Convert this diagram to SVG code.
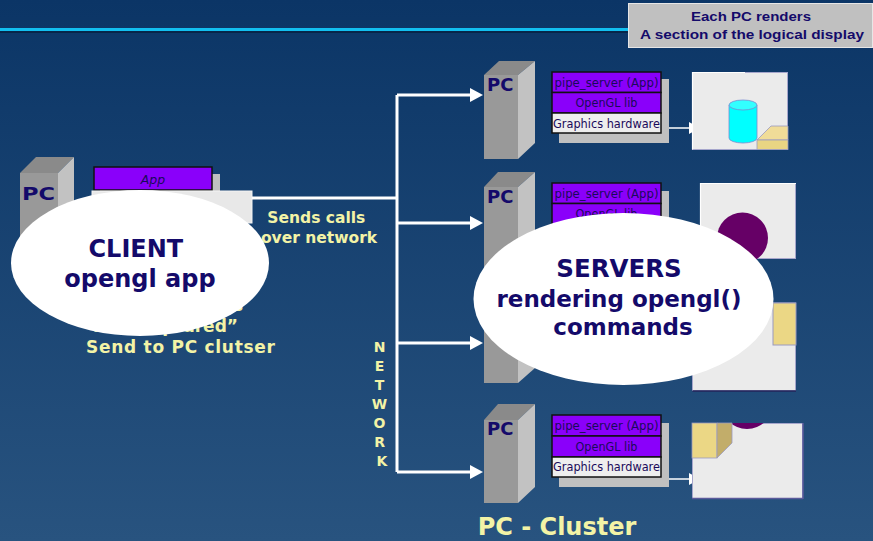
<svg xmlns="http://www.w3.org/2000/svg" width="873" height="541" viewBox="0 0 873 541">
  <defs>
    <linearGradient id="bg" x1="0" y1="0" x2="0" y2="1">
      <stop offset="0" stop-color="#0b3566"/>
      <stop offset="1" stop-color="#28537f"/>
    </linearGradient>
    <marker id="ah" markerWidth="14" markerHeight="14" refX="0" refY="7" orient="auto" markerUnits="userSpaceOnUse">
      <path d="M0,0 L13,7 L0,14 z" fill="#ffffff"/>
    </marker>
    <marker id="ahs" markerWidth="12" markerHeight="12" refX="0" refY="6" orient="auto" markerUnits="userSpaceOnUse">
      <path d="M0,0 L11,6 L0,12 z" fill="#ffffff"/>
    </marker>
    <clipPath id="clip2"><rect x="700" y="183" width="96" height="76"/></clipPath>
    <clipPath id="clip4"><rect x="692" y="423" width="111" height="76"/></clipPath>
    <style>
      .navy { fill: #140a6a; font-family: "DejaVu Sans", "Liberation Sans", sans-serif; font-weight: bold; }
      .yel { fill: #f3f3a6; font-family: "DejaVu Sans", "Liberation Sans", sans-serif; font-weight: bold; }
      .front { fill: #999999; }
      .side { fill: #c2c2c2; }
      .top { fill: #8a8a8a; }
      .pclabel { fill: #140a6a; font-family: "DejaVu Sans", "Liberation Sans", sans-serif; font-weight: bold; font-size: 18px; }
      .purple { fill: #8a00fa; stroke: #111111; stroke-width: 1.5; }
      .hw { fill: #eeeeee; stroke: #111111; stroke-width: 1.5; }
      .shadow { fill: #c0c0c0; }
      .row { fill: #1a0a5a; font-family: "DejaVu Sans", "Liberation Sans", sans-serif; font-size: 12.5px; }
      .wire { stroke: #ffffff; stroke-width: 3; fill: none; }
      .thin { stroke: #ffffff; stroke-width: 1.5; fill: none; }
      .screen { fill: #ebebeb; stroke: #a6a6cc; stroke-width: 1; }
      .bubble { fill: #ffffff; }
    </style>
  </defs>

  <!-- backdrop and title rule -->
  <rect x="0" y="0" width="873" height="541" fill="url(#bg)"/>
  <rect x="0" y="31" width="628" height="2" fill="#07264a"/>
  <rect x="0" y="28" width="628" height="3" fill="#12bff0"/>

  <!-- note box -->
  <g id="note">
    <rect x="628.5" y="3.5" width="244" height="44" fill="#c0c0c0" stroke="#e6e6e6" stroke-width="1"/>
    <text x="751" y="21" text-anchor="middle" font-family="Liberation Sans, Arial, sans-serif" font-weight="bold" font-size="13" fill="#140a6a" textLength="120" lengthAdjust="spacingAndGlyphs">Each PC renders</text>
    <text x="752" y="39" text-anchor="middle" font-family="Liberation Sans, Arial, sans-serif" font-weight="bold" font-size="13" fill="#140a6a" textLength="224" lengthAdjust="spacingAndGlyphs">A section of the logical display</text>
  </g>

  <!-- client machine -->
  <g id="client-pc">
    <polygon class="top" points="20,173 36,157 74,157 58,173"/>
    <polygon class="side" points="58,173 74,157 74,265 58,280"/>
    <rect class="front" x="20" y="173" width="38" height="107"/>
    <text class="pclabel" x="22" y="200" font-size="21" textLength="33" lengthAdjust="spacingAndGlyphs">PC</text>
  </g>

  <g id="client-stack">
    <rect class="shadow" x="100" y="174" width="120" height="40"/>
    <rect class="purple" x="94" y="167" width="118" height="23"/>
    <text class="row" x="153" y="184" text-anchor="middle" font-style="italic">App</text>
    <rect x="92" y="191" width="160" height="32" fill="#e8e8e8" stroke="#f4f4f4" stroke-width="1"/>
  </g>

  <!-- captions under the client bubble -->
  <g id="client-caption">
    <text class="yel" font-size="17">
      <tspan x="249" y="311" text-anchor="end">All OpenGL calls</tspan>
      <tspan x="238" y="332" text-anchor="end">are “captured”</tspan>
    </text>
    <text class="yel" x="180.5" y="353" font-size="17" text-anchor="middle" textLength="189" lengthAdjust="spacing">Send to PC clutser</text>
  </g>

  <g id="network-caption">
    <text class="yel" font-size="15.5" text-anchor="middle">
      <tspan x="319" y="223">Sends calls</tspan>
      <tspan x="319" y="243">over network</tspan>
    </text>
    <text class="yel" font-size="14" text-anchor="middle">
      <tspan x="382" y="352">N</tspan>
      <tspan x="382" y="371">E</tspan>
      <tspan x="382" y="390">T</tspan>
      <tspan x="382" y="409">W</tspan>
      <tspan x="382" y="428">O</tspan>
      <tspan x="382" y="447">R</tspan>
      <tspan x="382" y="466">K</tspan>
    </text>
  </g>

  <!-- network wiring -->
  <g id="connectors">
    <path class="wire" d="M252 198 H397"/>
    <path class="wire" d="M397 95 V472"/>
    <path class="wire" d="M397 95 H470" marker-end="url(#ah)"/>
    <path class="wire" d="M397 223 H470" marker-end="url(#ah)"/>
    <path class="wire" d="M397 343 H470" marker-end="url(#ah)"/>
    <path class="wire" d="M397 472 H470" marker-end="url(#ah)"/>
    <path class="thin" d="M668 128 H689" marker-end="url(#ahs)"/>
    <path class="thin" d="M668 479 H689" marker-end="url(#ahs)"/>
  </g>

  <!-- render node 1 -->
  <g id="server-1">
    <polygon class="top" points="484,75 499,61 535,61 518,75"/>
    <polygon class="side" points="518,75 535,61 535,143 518,159"/>
    <rect class="front" x="484" y="75" width="34" height="84"/>
    <text class="pclabel" x="487" y="91">PC</text>
    <rect class="shadow" x="559" y="79" width="110" height="64"/>
    <rect class="purple" x="552" y="72" width="109" height="20.5"/>
    <rect class="purple" x="552" y="92.5" width="109" height="20.5"/>
    <rect class="hw" x="552" y="113" width="109" height="20"/>
    <text class="row" x="606.5" y="87" text-anchor="middle" textLength="104" lengthAdjust="spacingAndGlyphs">pipe_server (App)</text>
    <text class="row" x="606.5" y="107" text-anchor="middle" textLength="62" lengthAdjust="spacingAndGlyphs">OpenGL lib</text>
    <text class="row" x="606.5" y="127.5" text-anchor="middle" textLength="107" lengthAdjust="spacingAndGlyphs">Graphics hardware</text>
  </g>

  <!-- render node 2 -->
  <g id="server-2">
    <polygon class="top" points="484,187 498,172 535,172 518,187"/>
    <polygon class="side" points="518,187 535,172 535,256 518,271"/>
    <rect class="front" x="484" y="187" width="34" height="84"/>
    <text class="pclabel" x="487" y="203">PC</text>
    <rect class="shadow" x="559" y="191" width="110" height="64"/>
    <rect class="purple" x="552" y="183" width="109" height="20.5"/>
    <rect class="purple" x="552" y="203.5" width="109" height="20.5"/>
    <rect class="hw" x="552" y="224" width="109" height="20"/>
    <text class="row" x="606.5" y="198" text-anchor="middle" textLength="104" lengthAdjust="spacingAndGlyphs">pipe_server (App)</text>
    <text class="row" x="606.5" y="218" text-anchor="middle" textLength="62" lengthAdjust="spacingAndGlyphs">OpenGL lib</text>
  </g>

  <!-- render node 3 -->
  <g id="server-3">
    <polygon class="side" points="518,299 535,284 535,368 518,383"/>
    <rect class="front" x="484" y="299" width="34" height="84"/>
  </g>

  <!-- render node 4 -->
  <g id="server-4">
    <polygon class="top" points="484,420 498,404 535,404 518,420"/>
    <polygon class="side" points="518,420 535,404 535,487 518,503"/>
    <rect class="front" x="484" y="420" width="34" height="83"/>
    <text class="pclabel" x="487" y="435">PC</text>
    <rect class="shadow" x="559" y="423" width="110" height="64"/>
    <rect class="purple" x="552" y="415" width="109" height="21"/>
    <rect class="purple" x="552" y="436" width="109" height="21"/>
    <rect class="hw" x="552" y="457" width="109" height="20"/>
    <text class="row" x="606.5" y="430" text-anchor="middle" textLength="104" lengthAdjust="spacingAndGlyphs">pipe_server (App)</text>
    <text class="row" x="606.5" y="451" text-anchor="middle" textLength="62" lengthAdjust="spacingAndGlyphs">OpenGL lib</text>
    <text class="row" x="606.5" y="471" text-anchor="middle" textLength="107" lengthAdjust="spacingAndGlyphs">Graphics hardware</text>
  </g>

  <!-- display tiles -->
  <g id="tile-1">
    <rect class="screen" x="692.5" y="72.5" width="95" height="77"/>
    <path d="M692.5 149.5 V72.5 H745" stroke="#ffffff" stroke-width="1.2" fill="none"/>
    <path d="M729 105 V138 A14 5 0 0 0 757 138 V105 Z" fill="#00ffff" stroke="#7a8ad0" stroke-width="0.8"/>
    <ellipse cx="743" cy="105" rx="14" ry="5" fill="#33ffff" stroke="#7a8ad0" stroke-width="0.8"/>
    <polygon points="757,140 771,126 788,126 788,140" fill="#f0dc98" stroke="#9a9ac0" stroke-width="0.8"/>
    <rect x="757" y="140" width="31" height="9.5" fill="#e9d583" stroke="#9a9ac0" stroke-width="0.8"/>
  </g>

  <g id="tile-2">
    <rect class="screen" x="700.5" y="183.5" width="95" height="75"/>
    <path d="M700.5 258.5 V183.5 H796" stroke="#ffffff" stroke-width="1.2" fill="none"/>
    <circle cx="742.5" cy="238" r="25.5" fill="#660066" clip-path="url(#clip2)"/>
  </g>

  <g id="tile-3">
    <rect class="screen" x="692.5" y="303" width="103" height="87.5"/>
    <path d="M692.5 391 H796" stroke="#23235a" stroke-width="1.5"/>
    <rect x="773" y="303" width="23" height="42" fill="#ebd785" stroke="#9a9ac0" stroke-width="1"/>
  </g>

  <g id="tile-4">
    <rect class="screen" x="692.5" y="423.5" width="110" height="75"/>
    <path d="M803 423 V499 M692 498.5 H803" stroke="#5a5a9a" stroke-width="1.5"/>
    <circle cx="747" cy="403" r="26" fill="#660066" clip-path="url(#clip4)"/>
    <rect x="692" y="423" width="25" height="35" fill="#ebd785" stroke="#9a9ac0" stroke-width="0.8"/>
    <polygon points="717,423 732,423 732,443 717,458" fill="#c2ad6a" stroke="#9a9ac0" stroke-width="0.8"/>
  </g>

  <!-- callout bubbles -->
  <g id="client-bubble">
    <ellipse class="bubble" cx="140" cy="263" rx="129" ry="73"/>
    <text class="navy" font-size="24" text-anchor="middle">
      <tspan x="140" y="257">CLIENT</tspan>
      <tspan x="140" y="287">opengl app</tspan>
    </text>
  </g>

  <g id="server-bubble">
    <ellipse class="bubble" cx="623.5" cy="299" rx="150" ry="86"/>
    <text class="navy" font-size="23" text-anchor="middle">
      <tspan x="623" y="277" font-size="24.5">SERVERS</tspan>
      <tspan x="623" y="307">rendering opengl()</tspan>
      <tspan x="623" y="335">commands</tspan>
    </text>
  </g>

  <g id="cluster-label">
    <text class="yel" x="557" y="535" font-size="24" text-anchor="middle">PC - Cluster</text>
  </g>
</svg>
